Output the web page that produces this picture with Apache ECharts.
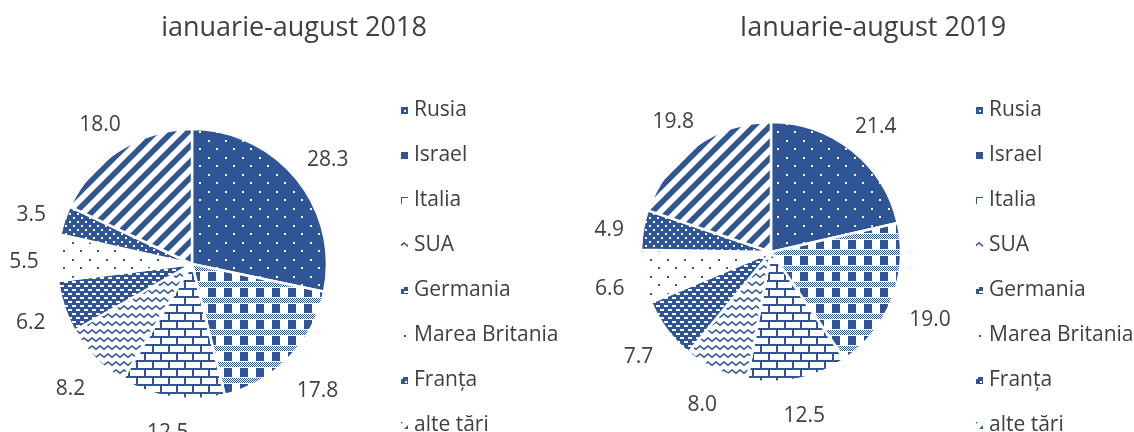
<!DOCTYPE html>
<html>
<head>
<meta charset="utf-8">
<script src="https://cdn.jsdelivr.net/npm/echarts@6/dist/echarts.min.js"></script>
<style>
  html, body { margin: 0; padding: 0; background: #fff; }
  #chart { width: 1134px; height: 432px; }
</style>
</head>
<body>
<div id="chart"></div>
<script>
// Structura pe țări, ponderi în %
const countries = ['Rusia', 'Israel', 'Italia', 'SUA', 'Germania', 'Marea Britania', 'Franța', 'alte țări'];
const values2018 = [28.3, 17.8, 12.5, 8.2, 6.2, 5.5, 3.5, 18.0];
const values2019 = [21.4, 19.0, 12.5, 8.0, 7.7, 6.6, 4.9, 19.8];
const titles = ['ianuarie-august 2018', 'Ianuarie-august 2019'];

const BLUE = '#2F5597';
const WHITE = '#ffffff';
const FONT = '"Open Sans", sans-serif';
const TEXT = '#404040';

// Small repeating canvas tiles used as hatch fills
function tile(w, h, bg, draw) {
  const c = document.createElement('canvas');
  c.width = w; c.height = h;
  const g = c.getContext('2d');
  g.fillStyle = bg; g.fillRect(0, 0, w, h);
  g.fillStyle = BLUE; g.strokeStyle = BLUE;
  draw(g);
  return { image: c, repeat: 'repeat' };
}

const patterns = [
  // Rusia: white dots on blue, staggered
  tile(17, 17, BLUE, g => { g.fillStyle = WHITE; g.fillRect(4, 4, 2, 2); g.fillRect(12, 12, 2, 2); }),
  // Israel: plaid, blue blocks with checkered bands
  tile(16, 16, WHITE, g => {
    g.fillRect(0, 0, 8, 9);
    for (let y = 10; y < 15; y++) for (let x = 0; x < 16; x++) if ((x + y) % 2 === 0) g.fillRect(x, y, 1, 1);
  }),
  // Italia: brick
  tile(16, 16, WHITE, g => {
    g.fillRect(0, 0, 16, 2); g.fillRect(0, 8, 16, 2);
    g.fillRect(0, 2, 2, 6); g.fillRect(8, 10, 2, 6);
  }),
  // SUA: wave
  tile(8, 8, WHITE, g => {
    g.lineWidth = 1.6;
    g.beginPath(); g.moveTo(-1, 6); g.lineTo(4, 2); g.lineTo(9, 6); g.stroke();
  }),
  // Germania: white dashes on blue
  tile(8, 8, BLUE, g => { g.fillStyle = WHITE; g.fillRect(0, 1, 4, 2); g.fillRect(4, 5, 4, 2); }),
  // Marea Britania: sparse blue dots on white
  tile(17, 17, WHITE, g => { g.fillRect(4, 4, 2, 2); g.fillRect(12, 12, 2, 2); }),
  // Franța: dense white dots on blue
  tile(8, 8, BLUE, g => { g.fillStyle = WHITE; g.fillRect(1, 1, 2, 2); g.fillRect(5, 5, 2, 2); }),
  // alte țări: wide upward diagonal stripes
  tile(16, 16, WHITE, g => {
    g.lineWidth = 5.5;
    for (const o of [-16, 0, 16]) { g.beginPath(); g.moveTo(o - 4, 20); g.lineTo(o + 20, -4); g.stroke(); }
  })
];

function pieData(values) {
  return countries.map((name, i) => ({ name, value: values[i], itemStyle: { color: patterns[i] } }));
}

// Value labels sit just outside the rim on each slice's mid-angle,
// pushed out by the half-extent of the text box in that direction.
function outsideEndLayout(values, center, radius, gap) {
  const total = values.reduce((a, b) => a + b, 0);
  return params => {
    const i = params.dataIndex;
    let before = 0;
    for (let k = 0; k < i; k++) before += values[k];
    const ang = (before + values[i] / 2) / total * Math.PI * 2;
    const dx = Math.sin(ang), dy = -Math.cos(ang);
    const w = params.labelRect.width, h = Math.min(params.labelRect.height, 18);
    const dist = radius + gap + Math.abs(dx) * w / 2 + Math.abs(dy) * h / 2;
    return {
      x: center[0] + dx * dist,
      y: center[1] + dy * dist + 6,
      align: 'center',
      verticalAlign: 'middle'
    };
  };
}

function pieSeries(values, center, radius) {
  return {
    type: 'pie',
    center, radius,
    startAngle: 90,
    clockwise: true,
    animation: false,
    data: pieData(values),
    itemStyle: { borderColor: WHITE, borderWidth: 2.5 },
    label: {
      show: true, position: 'outside',
      formatter: p => p.value.toFixed(1),
      color: TEXT, fontFamily: FONT, fontSize: 21,
      width: 70, overflow: 'none'
    },
    labelLine: { show: false, length: 20, length2: 0 },
    labelLayout: outsideEndLayout(values, center, radius, 18),
    emphasis: { disabled: true }
  };
}

function legend(left) {
  return {
    orient: 'vertical', left, top: 100, height: 420, padding: 0,
    data: countries,
    icon: 'rect', itemWidth: 9, itemHeight: 9, itemGap: 24,
    textStyle: { color: TEXT, fontFamily: FONT, fontSize: 21, lineHeight: 21 },
    selectedMode: false
  };
}

const chart = echarts.init(document.getElementById('chart'), null, { renderer: 'canvas' });
chart.setOption({
  backgroundColor: WHITE,
  title: [
    { text: titles[0], left: 289, top: 10, textAlign: 'center', textStyle: { color: TEXT, fontFamily: FONT, fontSize: 27, fontWeight: 'normal' } },
    { text: titles[1], left: 868, top: 10, textAlign: 'center', textStyle: { color: TEXT, fontFamily: FONT, fontSize: 27, fontWeight: 'normal' } }
  ],
  legend: [legend(399), legend(974)],
  series: [
    pieSeries(values2018, [192, 264], 135),
    pieSeries(values2019, [771, 252], 130)
  ]
});
</script>
</body>
</html>
